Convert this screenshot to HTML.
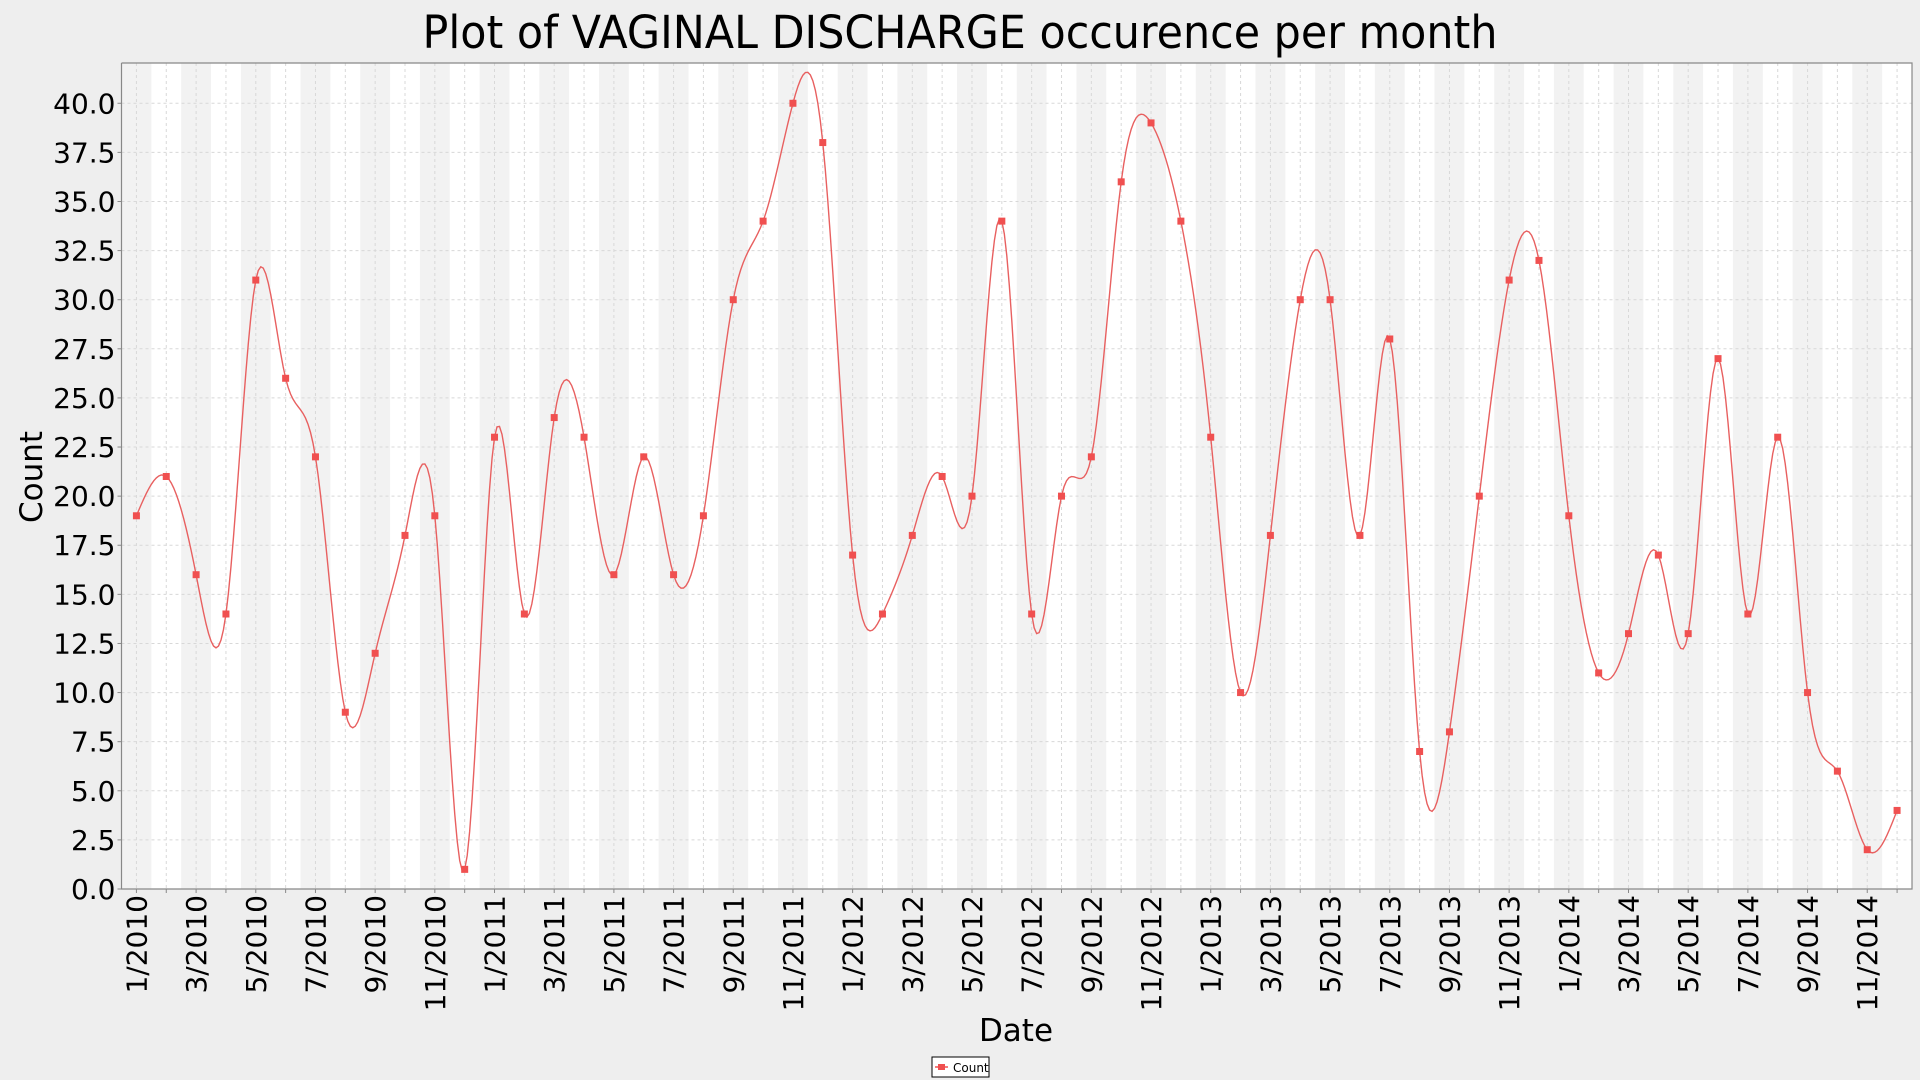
<!DOCTYPE html>
<html><head><meta charset="utf-8"><style>
html,body{margin:0;padding:0;background:#eeeeee;}
svg{display:block;font-family:"DejaVu Sans","Liberation Sans",sans-serif;}
</style></head><body>
<svg id="chart" width="1920" height="1080" xmlns="http://www.w3.org/2000/svg">
<rect width="1920" height="1080" fill="#eeeeee"/>
<text x="960" y="48" font-size="45" text-anchor="middle" textLength="1075" lengthAdjust="spacingAndGlyphs">Plot of VAGINAL DISCHARGE occurence per month</text>
<g id="plot"></g>
<text transform="translate(42,477) rotate(-90)" font-size="31" text-anchor="middle">Count</text>
<text x="1016" y="1041" font-size="31" text-anchor="middle">Date</text>
<g>
<rect x="932" y="1057" width="57" height="20" fill="#fff" stroke="#000" stroke-width="1"/>
<line x1="935" y1="1067" x2="948" y2="1067" stroke="#f05050" stroke-width="1.5"/>
<rect x="938" y="1064" width="7" height="6" fill="#f05050"/>
<text x="953" y="1072" font-size="12">Count</text>
</g>
</svg>
<script>
const months = ["1/2010","2/2010","3/2010","4/2010","5/2010","6/2010","7/2010","8/2010","9/2010","10/2010","11/2010","12/2010",
"1/2011","2/2011","3/2011","4/2011","5/2011","6/2011","7/2011","8/2011","9/2011","10/2011","11/2011","12/2011",
"1/2012","2/2012","3/2012","4/2012","5/2012","6/2012","7/2012","8/2012","9/2012","10/2012","11/2012","12/2012",
"1/2013","2/2013","3/2013","4/2013","5/2013","6/2013","7/2013","8/2013","9/2013","10/2013","11/2013","12/2013",
"1/2014","2/2014","3/2014","4/2014","5/2014","6/2014","7/2014","8/2014","9/2014","10/2014","11/2014","12/2014"];
const counts = [19,21,16,14,31,26,22,9,12,18,19,1,
23,14,24,23,16,22,16,19,30,34,40,38,
17,14,18,21,20,34,14,20,22,36,39,34,
23,10,18,30,30,18,28,7,8,20,31,32,
19,11,13,17,13,27,14,23,10,6,2,4];
const yTicks = ["0.0","2.5","5.0","7.5","10.0","12.5","15.0","17.5","20.0","22.5","25.0","27.5","30.0","32.5","35.0","37.5","40.0"];

const L=121.5,R=1912,T=63,B=889;
const yMax=42.05;
const n=months.length;
const xs=i=>L+(i+0.5)/n*(R-L);
const ys=v=>B-v/yMax*(B-T);
const NS="http://www.w3.org/2000/svg";
const g=document.getElementById('plot');
function mk(t,a){const e=document.createElementNS(NS,t);for(const k in a)e.setAttribute(k,a[k]);return e;}
const bg=mk('rect',{x:L,y:T,width:R-L,height:B-T,fill:'#fff'});


g.appendChild(bg);
const bw=(R-L)/n;
for(let i=0;i<n;i+=2){
  const b=mk('rect',{x:L+i*bw,y:T,width:bw,height:B-T,fill:'#f2f2f2'});
  
  
  g.appendChild(b);
}
for(let i=0;i<n;i++){
  const x=xs(i);
  const gl=mk('line',{x1:x,y1:T,x2:x,y2:B,stroke:'#d8d8d8','stroke-width':1,'stroke-dasharray':'3,3'});
  
  
  g.appendChild(gl);
  const tk=mk('line',{x1:x,y1:B,x2:x,y2:B+4,stroke:'#888','stroke-width':1});
  
  
  g.appendChild(tk);
  if(i%2===0){
    const t=mk('text',{transform:`translate(${x+10},${B+6}) rotate(-90)`,'font-size':28,'text-anchor':'end'});
    t.textContent=months[i];
    
    
    g.appendChild(t);
  }
}
yTicks.forEach(s=>{
  const v=parseFloat(s),y=ys(v);
  const gl=mk('line',{x1:L,y1:y,x2:R,y2:y,stroke:'#d8d8d8','stroke-width':1,'stroke-dasharray':'3,3'});
  
  
  g.appendChild(gl);
  const tk=mk('line',{x1:L-4,y1:y,x2:L,y2:y,stroke:'#888'});
  
  
  g.appendChild(tk);
  const t=mk('text',{x:L-6,y:y+10,'font-size':28,'text-anchor':'end'});
  t.textContent=s;
  
  
  g.appendChild(t);
});
const ax=mk('path',{d:`M${L},${T}V${B}H${R}V${T}H${L}`,fill:'none',stroke:'#888','stroke-width':1.2});


g.appendChild(ax);
// natural cubic spline
const m=new Array(n).fill(0);
(function(){
  const a=[],b=[],c=[],d=[];
  for(let i=0;i<n;i++){a[i]=0;b[i]=1;c[i]=0;d[i]=0;}
  for(let i=1;i<n-1;i++){a[i]=1;b[i]=4;c[i]=1;d[i]=6*(counts[i+1]-2*counts[i]+counts[i-1]);}
  for(let i=1;i<n;i++){const w=a[i]/b[i-1];b[i]-=w*c[i-1];d[i]-=w*d[i-1];}
  m[n-1]=d[n-1]/b[n-1];
  for(let i=n-2;i>=0;i--)m[i]=(d[i]-c[i]*m[i+1])/b[i];
})();
let dstr='';
for(let i=0;i<n-1;i++){
  for(let k=0;k<=12;k++){
    if(i>0&&k===0)continue;
    const t=k/12;
    const v=(1-t)*counts[i]+t*counts[i+1]+((1-t)**3-(1-t))*m[i]/6+(t**3-t)*m[i+1]/6;
    dstr+=(dstr?'L':'M')+xs(i+t).toFixed(2)+','+ys(v).toFixed(2);
  }
}
const line=mk('path',{d:dstr,fill:'none',stroke:'#e86060','stroke-width':1.4});


g.appendChild(line);
counts.forEach((v,i)=>{
  const r=mk('rect',{x:xs(i)-3.5,y:ys(v)-3.5,width:7,height:7,fill:'#f05050'});
  
  
  g.appendChild(r);
});
</script>
</body></html>
